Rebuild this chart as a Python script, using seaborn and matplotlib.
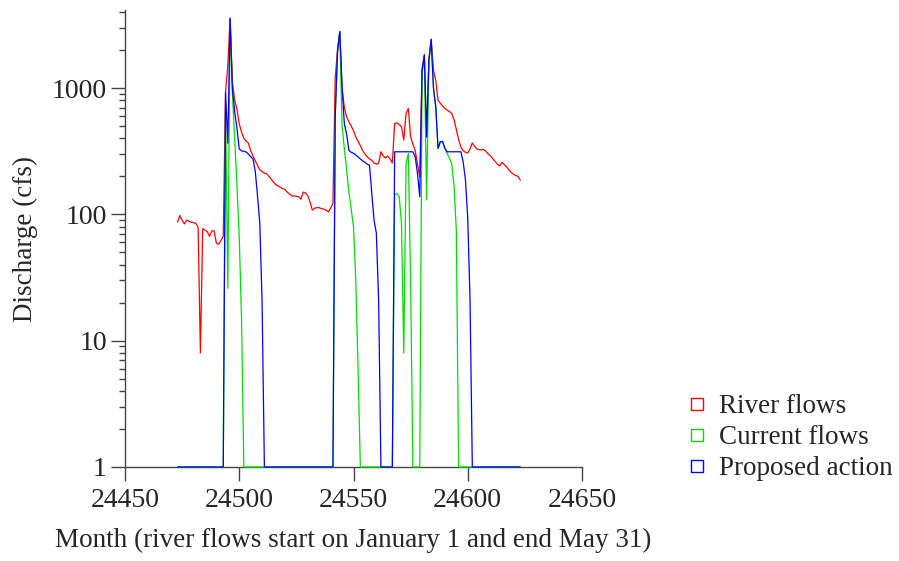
import numpy as np
import pandas as pd
import matplotlib
matplotlib.use("Agg")
import matplotlib.pyplot as plt
from matplotlib.lines import Line2D
from matplotlib.ticker import FixedLocator, LogLocator, NullFormatter
import seaborn as sns

# River flows: one value per day, Jan 1 .. May 31
river_days = list(range(24473, 24624))
river_cfs = [
    87, 98, 90, 84, 90, 88, 87, 86, 85, 79, 8, 77, 75, 73, 67, 74, 74, 59, 58, 62,
    67, 925, 1500, 3570, 1100, 800, 680, 520, 450, 400, 380, 366, 320, 290, 265, 245,
    225, 218, 212, 210, 200, 190, 180, 172, 168, 164, 160, 158, 150, 145, 140, 140,
    139, 138, 132, 150, 148, 140, 125, 108, 112, 113, 113, 111, 110, 108, 105, 112,
    122, 1200, 2000, 2800, 1000, 700, 591, 540, 500, 460, 410, 380, 350, 320, 300,
    285, 275, 268, 255, 250, 253, 313, 290, 280, 290, 275, 255, 525, 530, 515, 495,
    387, 630, 690, 410, 360, 320, 250, 198, 1400, 1850, 420, 1700, 2450, 1390, 1150,
    800, 760, 720, 690, 670, 650, 630, 560, 470, 390, 340, 320, 310, 306, 330, 368,
    345, 330, 325, 324, 326, 315, 300, 290, 275, 262, 250, 242, 258, 248, 238, 225,
    215, 208, 203, 200, 187,
]

# Current flows
current_days = [
    24473, 24493, 24494, 24495, 24496, 24497, 24498, 24499, 24500, 24501, 24502,
    24541, 24542, 24543, 24544, 24545, 24546, 24547, 24548, 24549, 24550, 24551,
    24552, 24553, 24567, 24568, 24569, 24570, 24571, 24572, 24573, 24574, 24575,
    24576, 24579, 24580, 24581, 24582, 24583, 24584, 24585, 24586, 24587, 24588,
    24589, 24590, 24591, 24592, 24593, 24594, 24595, 24596, 24623,
]
current_cfs = [
    1, 1, 700, 26, 3500, 900, 400, 170, 66, 15, 1,
    1, 600, 1900, 2800, 500, 330, 225, 150, 110, 80, 30,
    6, 1, 1, 142, 147, 138, 85, 8, 253, 303, 28,
    1, 1, 1300, 1800, 130, 1650, 2420, 1000, 710, 333, 377,
    377, 333, 303, 278, 250, 170, 75, 1, 1,
]

# Proposed action
proposed_days = [
    24473, 24493, 24494, 24495, 24496, 24497, 24498, 24499, 24500, 24501, 24502,
    24503, 24504, 24505, 24506, 24507, 24508, 24509, 24510, 24511, 24541, 24542,
    24543, 24544, 24545, 24546, 24547, 24548, 24549, 24550, 24551, 24552, 24553,
    24554, 24555, 24556, 24557, 24558, 24559, 24560, 24561, 24562, 24567, 24568,
    24576, 24577, 24578, 24579, 24580, 24581, 24582, 24583, 24584, 24585, 24586,
    24587, 24588, 24589, 24590, 24591, 24597, 24598, 24599, 24600, 24601, 24602,
    24623,
]
proposed_cfs = [
    1, 1, 925, 366, 3570, 1000, 650, 480, 330, 318, 316,
    312, 300, 286, 275, 220, 140, 85, 20, 1, 1, 600,
    1940, 2800, 1000, 520, 430, 320, 310, 305, 295, 285, 275,
    265, 258, 250, 245, 147, 90, 71, 21, 1, 1, 313,
    313, 286, 211, 138, 1380, 1810, 410, 1650, 2420, 1000, 710,
    333, 377, 377, 333, 313, 313, 260, 187, 93, 21, 1,
    1,
]

x_ticks = [24450, 24500, 24550, 24600, 24650]
y_ticks = [1, 10, 100, 1000]

sns.set_style("ticks")
plt.rcParams['font.family'] = ['Liberation Serif', 'DejaVu Serif']

fig = plt.figure(figsize=(8.99, 5.61), dpi=100)
ax = fig.add_axes([125 / 899, 1 - 467 / 561, 457 / 899, 457 / 561])

series = [
    (river_days, river_cfs, "#ff0000", "River flows"),
    (current_days, current_cfs, "#00dd00", "Current flows"),
    (proposed_days, proposed_cfs, "#0000ff", "Proposed action"),
]
for days, cfs, col, name in series:
    df = pd.DataFrame({"day": days, "cfs": cfs})
    sns.lineplot(data=df, x="day", y="cfs", ax=ax, color=col, lw=0.9,
                 estimator=None, sort=False, clip_on=False, zorder=3)

ax.set_yscale("log")
ax.set_xlim(24450, 24650)
ax.set_ylim(1, 4150)
ax.set_xticks(x_ticks)
ax.set_xticklabels([str(t) for t in x_ticks])
ax.yaxis.set_major_locator(FixedLocator(y_ticks))
ax.set_yticklabels([str(t) for t in y_ticks])
ax.yaxis.set_minor_locator(LogLocator(base=10, subs=np.arange(2, 10)))
ax.yaxis.set_minor_formatter(NullFormatter())

for s in ["top", "right"]:
    ax.spines[s].set_visible(False)
for s in ["left", "bottom"]:
    ax.spines[s].set_color("#444444")
    ax.spines[s].set_linewidth(1.0)
ax.tick_params(axis="both", which="major", length=10, width=1.0, color="#444444",
               labelsize=20, direction="out")
ax.tick_params(axis="x", which="major", pad=5)
ax.tick_params(axis="y", which="major", pad=3)
ax.tick_params(axis="y", which="minor", length=4.5, width=1.0, color="#444444")

ax.set_xlabel("Month (river flows start on January 1 and end May 31)", fontsize=19.5, labelpad=11)
ax.set_ylabel("Discharge (cfs)", fontsize=19.5, labelpad=10)

handles = [Line2D([], [], ls="none", marker="s", markersize=8, markerfacecolor="none",
                  markeredgecolor=c, markeredgewidth=1.0, label=n)
           for _, _, c, n in series]
fig.legend(handles=handles, loc="lower left", bbox_to_anchor=(670 / 899, (561 - 495) / 561),
           frameon=False, fontsize=19.5, handlelength=1.0, handletextpad=0.3,
           labelspacing=0.23, borderpad=0.0)

fig.savefig("out.png", dpi=100)
